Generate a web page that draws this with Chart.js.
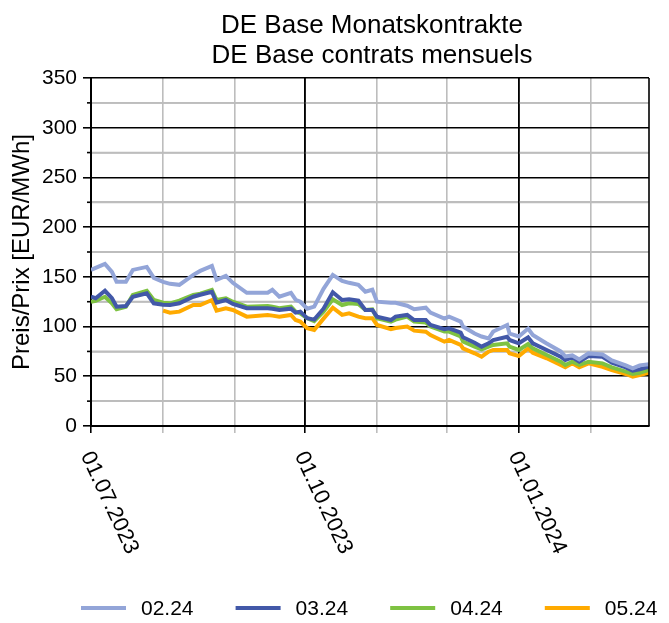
<!DOCTYPE html>
<html>
<head>
<meta charset="utf-8">
<script src="https://cdn.jsdelivr.net/npm/chart.js@4.4.1/dist/chart.umd.min.js"></script>
<style>
  html, body { margin: 0; padding: 0; background: #fff; }
</style>
</head>
<body>
<canvas id="chart" width="669" height="623"></canvas>
<script>
// --- DATI ---
const titleLines = ["DE Base Monatskontrakte", "DE Base contrats mensuels"];
const yTitle = "Preis/Prix [EUR/MWh]";
const seriesNames = ["02.24", "03.24", "04.24", "05.24"];
const seriesColors = ["#93a5d8", "#4258a8", "#7ec242", "#ffaa00"];

const dates = [
  "2023-07-01", "2023-07-03", "2023-07-07", "2023-07-10", "2023-07-12", "2023-07-16",
  "2023-07-19", "2023-07-25", "2023-07-28", "2023-08-01", "2023-08-04", "2023-08-08",
  "2023-08-14", "2023-08-17", "2023-08-22", "2023-08-24", "2023-08-28", "2023-08-31",
  "2023-09-06", "2023-09-15", "2023-09-17", "2023-09-20", "2023-09-25", "2023-09-27",
  "2023-09-29", "2023-10-02", "2023-10-05", "2023-10-09", "2023-10-13", "2023-10-17",
  "2023-10-20", "2023-10-24", "2023-10-27", "2023-10-30", "2023-11-01", "2023-11-07",
  "2023-11-09", "2023-11-14", "2023-11-17", "2023-11-22", "2023-11-24", "2023-11-30",
  "2023-12-02", "2023-12-07", "2023-12-08", "2023-12-13", "2023-12-16", "2023-12-19",
  "2023-12-21", "2023-12-27", "2023-12-28", "2024-01-01", "2024-01-05", "2024-01-07",
  "2024-01-13", "2024-01-19", "2024-01-21", "2024-01-24", "2024-01-27", "2024-01-31",
  "2024-02-06", "2024-02-10", "2024-02-16", "2024-02-19", "2024-02-22", "2024-02-26"
];

const feb24 = [
  157, 159, 163, 155, 145, 145, 157, 160, 149, 145, 143, 142,
  152, 156, 161, 147, 151, 144, 134, 134, 137, 130, 134, 127,
  125, 118, 120, 138, 152, 146, 144, 142, 135, 137, 125, 124,
  124, 121, 117.5, 119, 114, 108, 110, 105, 100, 93, 90, 88,
  95, 101.6, 93, 90, 98, 91.5, 83, 75, 70, 71, 67, 73,
  72, 66, 61, 58, 61, 62
];
const mar24 = [
  130, 128.5, 136, 128.5, 120, 120.7, 130, 133.5, 123.4, 122, 121.7, 123.4,
  130, 132, 135, 124, 126.7, 122.7, 118.4, 118.4, 118, 116.7, 118, 114,
  115, 108.4, 107, 118, 134.5, 126.7, 127.4, 126, 116.7, 116.7, 110, 106.6,
  110, 111.7, 106.6, 106.6, 101.6, 97.3, 98.3, 93.9, 89.2, 83.8, 79.8, 83.2,
  86.5, 89.8, 86.5, 83.2, 89.2, 83.2, 76.5, 69.7, 66.4, 69, 64.7, 70.4,
  69.7, 63.7, 59, 55.6, 57, 59.6
];
const apr24 = [
  125, 126, 130, 123.4, 117.4, 120, 131.8, 136, 126.7, 124, 123.4, 126,
  131.8, 133, 136.8, 126.7, 128.4, 125, 120, 120.7, 120, 118.4, 120, 115,
  113.4, 108.4, 105.5, 115, 127.4, 121.7, 123.4, 122.7, 116.7, 117.4, 108.4, 105,
  107, 110, 105, 104, 100, 95, 95, 90, 85, 79.8, 77.1, 79.8,
  81.5, 83.2, 79.8, 76.5, 82.5, 78.1, 71.4, 64.7, 61.4, 64.7, 61.4, 64.7,
  63, 59, 54.6, 52.3, 53.6, 56.3
];
const may24 = [
  null, null, null, null, null, null, null, null, null, 116, 114, 115,
  121.7, 121.7, 126.7, 116, 118.4, 116.7, 110, 111.7, 111, 110, 111.7, 106.6,
  105, 98.3, 96.6, 108, 119, 111.7, 113.4, 110, 108.4, 108.4, 101.6, 97.3,
  98.5, 100, 95.9, 94.9, 91.5, 84.8, 86.5, 81.5, 78.1, 73.1, 69.7, 74.7,
  76.5, 76.5, 73.1, 70.4, 78.1, 73.7, 68.1, 61.4, 59, 63, 59, 63,
  59.6, 56.3, 52.3, 49.6, 51.3, 53.6
];

const monthTicks = [
  "2023-07-01", "2023-08-01", "2023-09-01", "2023-10-01",
  "2023-11-01", "2023-12-01", "2024-01-01", "2024-02-01"
];
const labeledTicks = ["2023-07-01", "2023-10-01", "2024-01-01"];
const xTickLabels = ["01.07.2023", "01.10.2023", "01.01.2024"];
const xEnd = "2024-02-26";
const yMinorTicks = [25, 75, 125, 175, 225, 275, 325];

// --- UTIL ---
const FONT = "'Liberation Sans', Arial, sans-serif";
const DAY0 = Date.UTC(2023, 6, 1);
function dayOf(s) {
  const [y, m, d] = s.split("-").map(Number);
  return (Date.UTC(y, m - 1, d) - DAY0) / 86400000;
}
const monthDays = monthTicks.map(dayOf);
const labeledDays = labeledTicks.map(dayOf);

function toPoints(values) {
  return dates.map((d, i) => ({ x: dayOf(d), y: values[i] }));
}

// --- PLUGIN ---
const decorations = {
  id: "decorations",
  beforeDatasetsDraw(chart) {
    // griglia minore orizzontale (grigia), prima delle serie
    const ctx = chart.ctx;
    const a = chart.chartArea;
    const ys = chart.scales.y;
    ctx.save();
    ctx.strokeStyle = "#bdbdbd";
    ctx.lineWidth = 1.8;
    for (const v of yMinorTicks) {
      const y = ys.getPixelForValue(v);
      ctx.beginPath();
      ctx.moveTo(a.left + 1, y);
      ctx.lineTo(a.right - 1, y);
      ctx.stroke();
    }
    // le verticali nere restano sopra
    ctx.strokeStyle = "#000";
    ctx.lineWidth = 1.6;
    for (const d of labeledDays) {
      const x = chart.scales.x.getPixelForValue(d);
      ctx.beginPath();
      ctx.moveTo(x, a.top);
      ctx.lineTo(x, a.bottom);
      ctx.stroke();
    }
    ctx.restore();
  },
  afterDraw(chart) {
    const { ctx, chartArea: a, scales } = chart;
    ctx.save();

    // titolo
    ctx.fillStyle = "#000";
    ctx.font = "26px " + FONT;
    ctx.textAlign = "center";
    ctx.textBaseline = "alphabetic";
    const cx = (a.left + a.right) / 2 + 2;
    ctx.fillText(titleLines[0], cx, 33);
    ctx.fillText(titleLines[1], cx, 63);

    // bordo destro
    ctx.strokeStyle = "#000";
    ctx.lineWidth = 1.6;
    ctx.beginPath();
    ctx.moveTo(a.right, a.top);
    ctx.lineTo(a.right, a.bottom);
    ctx.stroke();

    // tacche minori asse Y
    yMinorTicks.forEach(v => {
      const y = scales.y.getPixelForValue(v);
      ctx.beginPath();
      ctx.moveTo(a.left - 4, y);
      ctx.lineTo(a.left, y);
      ctx.stroke();
    });

    // etichette asse X ruotate
    ctx.font = "22px " + FONT;
    ctx.textAlign = "left";
    ctx.textBaseline = "middle";
    labeledDays.forEach((d, i) => {
      const px = scales.x.getPixelForValue(d);
      ctx.save();
      ctx.translate(px - 5, a.bottom + 27);
      ctx.rotate(65 * Math.PI / 180);
      ctx.fillText(xTickLabels[i], 0, 0);
      ctx.restore();
    });

    // legenda
    ctx.font = "21px " + FONT;
    chart.data.datasets.forEach((ds, i) => {
      const x0 = 81 + i * 154.6;
      const y0 = 608;
      ctx.strokeStyle = ds.borderColor;
      ctx.lineWidth = 4;
      ctx.beginPath();
      ctx.moveTo(x0, y0);
      ctx.lineTo(x0 + 45, y0);
      ctx.stroke();
      ctx.fillStyle = "#000";
      ctx.fillText(ds.label, x0 + 60, y0 + 1);
    });

    ctx.restore();
  }
};

// --- GRAFICO ---
new Chart(document.getElementById("chart"), {
  type: "line",
  data: {
    datasets: [feb24, mar24, apr24, may24].map((vals, i) => ({
      label: seriesNames[i],
      data: toPoints(vals),
      borderColor: seriesColors[i],
      backgroundColor: seriesColors[i],
      borderWidth: 4,
      pointRadius: 0,
      tension: 0,
      spanGaps: false
    }))
  },
  options: {
    responsive: false,
    animation: false,
    layout: { padding: { top: 78, right: 20, bottom: 0, left: 0 } },
    plugins: {
      legend: { display: false },
      title: { display: false },
      tooltip: { enabled: false }
    },
    scales: {
      x: {
        type: "linear",
        min: 0,
        max: dayOf(xEnd),
        afterBuildTicks: (scale) => { scale.ticks = monthDays.map(v => ({ value: v })); },
        afterFit: (scale) => { scale.height = 197; },
        ticks: { display: false, autoSkip: false },
        grid: {
          color: (c) => labeledDays.includes(c.tick.value) ? "#000" : "#bdbdbd",
          lineWidth: 1.6,
          tickLength: 7
        },
        border: { color: "#000", width: 2 }
      },
      // asse ausiliario solo per la griglia minore ogni 25
      yMinor: {
        position: "left",
        min: 0,
        max: 350,
        afterFit: (scale) => { scale.width = 0; },
        ticks: { display: false, stepSize: 25 },
        grid: {
          color: (c) => (c.tick && c.tick.value % 50 !== 0 ? "#bdbdbd" : "rgba(0,0,0,0)"),
          lineWidth: 1.8,
          drawTicks: false
        },
        border: { display: false }
      },
      y: {
        min: 0,
        max: 350,
        afterFit: (scale) => { scale.width = 91; },
        ticks: {
          stepSize: 50,
          autoSkip: false,
          color: "#000",
          font: { family: FONT, size: 21 },
          padding: 6
        },
        grid: {
          color: "#000",
          lineWidth: 1.6,
          tickLength: 8
        },
        border: { color: "#000", width: 2 },
        title: {
          display: true,
          text: yTitle,
          color: "#000",
          font: { family: FONT, size: 24 },
          padding: { top: 8, bottom: 0 }
        }
      }
    }
  },
  plugins: [decorations]
});
</script>
</body>
</html>
